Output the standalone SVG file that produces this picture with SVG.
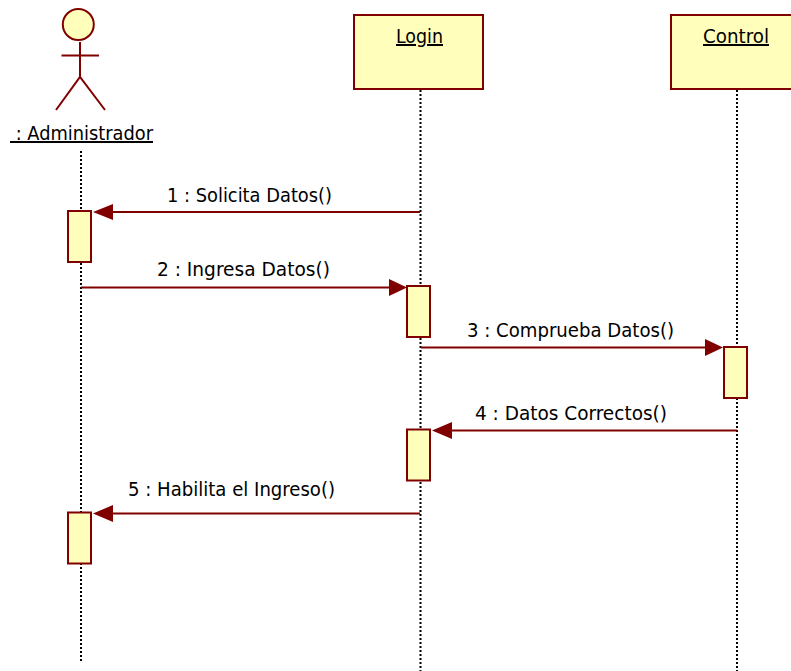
<svg xmlns="http://www.w3.org/2000/svg" width="791" height="671" viewBox="0 0 791 671">
<style>
.box{fill:#ffffbb;stroke:#800000;stroke-width:2}
.life{stroke:#000;stroke-width:2;stroke-dasharray:2 2;fill:none}
.msg{stroke:#800000;stroke-width:2;fill:none}
.head{fill:#800000;stroke:none}
.lim{stroke:#800000;stroke-width:2;fill:none}
text{font-family:"DejaVu Sans",sans-serif;font-size:20px;fill:#000;font-stretch:condensed}
.ul{text-decoration:underline}
</style>
<rect width="791" height="671" fill="#fff"/>
<g id="lifelines">
<path class="life" d="M81 151V663"/>
<path class="life" d="M420.500 90V671"/>
<path class="life" d="M737 90V671"/>
</g>
<g id="actor-administrador">
<circle class="box" cx="78.300" cy="24.500" r="15.500"/>
<path class="lim" d="M80 42V77M61.500 55.500H99M56 110L80 77L105 110"/>
<text class="ul" x="10" y="140" textLength="143" lengthAdjust="spacingAndGlyphs" xml:space="preserve"> : Administrador</text>
</g>
<g id="node-login">
<rect class="box" x="354" y="15" width="129" height="74"/>
<text class="ul" x="396" y="43" textLength="47" lengthAdjust="spacingAndGlyphs">Login</text>
</g>
<g id="node-control">
<rect class="box" x="671" y="15" width="130" height="74"/>
<text class="ul" x="703" y="43" textLength="66" lengthAdjust="spacingAndGlyphs">Control</text>
</g>
<g id="activations">
<rect class="box" x="68" y="211" width="23" height="51"/>
<rect class="box" x="407" y="286" width="23" height="51"/>
<rect class="box" x="724" y="347" width="23" height="51"/>
<rect class="box" x="407" y="429.500" width="23" height="51"/>
<rect class="box" x="68" y="512.500" width="23" height="51"/>
</g>
<g id="connectors">
<path class="msg" d="M420 212H110"/><path class="head" d="M93 212L113 204V220Z"/>
<path class="msg" d="M81 287.500H392"/><path class="head" d="M407 287.500L389 279V296Z"/>
<path class="msg" d="M421 347.500H708"/><path class="head" d="M723 347.500L705 339V356Z"/>
<path class="msg" d="M737 430.500H449"/><path class="head" d="M432 430.500L452 422V439Z"/>
<path class="msg" d="M420 513.500H110"/><path class="head" d="M93 513.500L113 505V522Z"/>
</g>
<g id="labels">
<text x="167" y="202" textLength="165" lengthAdjust="spacingAndGlyphs">1 : Solicita Datos()</text>
<text x="157" y="276" textLength="173" lengthAdjust="spacingAndGlyphs">2 : Ingresa Datos()</text>
<text x="467" y="337" textLength="207" lengthAdjust="spacingAndGlyphs">3 : Comprueba Datos()</text>
<text x="475" y="420" textLength="192" lengthAdjust="spacingAndGlyphs">4 : Datos Correctos()</text>
<text x="128" y="496" textLength="207" lengthAdjust="spacingAndGlyphs">5 : Habilita el Ingreso()</text>
</g>
</svg>
